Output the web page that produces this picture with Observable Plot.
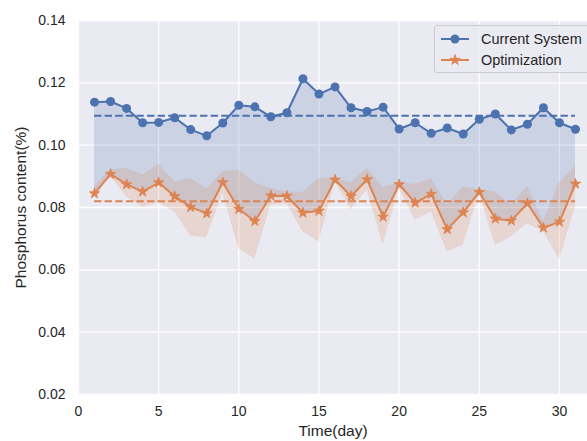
<!DOCTYPE html>
<html>
<head>
<meta charset="utf-8">
<script src="https://cdn.jsdelivr.net/npm/d3@7"></script>
<script src="https://cdn.jsdelivr.net/npm/@observablehq/plot@0.6"></script>
<style>
  html, body { margin: 0; padding: 0; background: #ffffff; overflow: hidden; }
  #wrap { position: relative; width: 587px; height: 441px; font-family: "Liberation Sans", Arial, sans-serif; }
  #chart g[aria-label="x-axis label"] text,
  #chart g[aria-label="y-axis label"] text { font-size: 15.5px; }
  #legend {
    position: absolute; left: 434px; top: 25px; width: 170px; height: 48px;
    background: rgba(234, 234, 242, 0.8); border: 1px solid #cccccc; border-radius: 3px;
    box-sizing: border-box; font-size: 14.5px; color: #262626;
  }
  .row { position: absolute; left: 0; height: 20px; display: flex; align-items: center; white-space: nowrap; }
  .row svg { margin-left: 5px; margin-right: 11px; }
</style>
</head>
<body>
<div id="wrap">
  <div id="chart"></div>
  <div id="legend">
    <div class="row" style="top: 3px;">
      <svg width="30" height="14"><line x1="1" y1="7" x2="29" y2="7" stroke="#4C72B0" stroke-width="2"/><circle cx="15" cy="7" r="4.5" fill="#4C72B0"/></svg>
      <span>Current System</span>
    </div>
    <div class="row" style="top: 24px;">
      <svg width="30" height="14"><line x1="1" y1="7" x2="29" y2="7" stroke="#DD8452" stroke-width="2"/><path id="legstar" fill="#DD8452" stroke="#DD8452" stroke-width="0.8"/></svg>
      <span>Optimization</span>
    </div>
  </div>
</div>
<script>
// Daily phosphorus content (%) over one month
const days = [1, 2, 3, 4, 5, 6, 7, 8, 9, 10, 11, 12, 13, 14, 15, 16, 17, 18, 19, 20, 21, 22, 23, 24, 25, 26, 27, 28, 29, 30, 31];

const currentSystem = [0.1138, 0.1140, 0.1118, 0.1072, 0.1073, 0.1088, 0.1050, 0.1030, 0.1071, 0.1128,
  0.1123, 0.1091, 0.1104, 0.1213, 0.1164, 0.1187, 0.1120, 0.1108, 0.1122, 0.1052,
  0.1072, 0.1038, 0.1055, 0.1036, 0.1083, 0.1100, 0.1049, 0.1067, 0.1120, 0.1072, 0.1051];

const optimization = [0.0845, 0.0907, 0.0874, 0.0851, 0.0880, 0.0836, 0.0801, 0.0781, 0.0880, 0.0795,
  0.0756, 0.0838, 0.0837, 0.0783, 0.0789, 0.0889, 0.0836, 0.0890, 0.0770, 0.0874,
  0.0815, 0.0843, 0.0730, 0.0784, 0.0849, 0.0764, 0.0758, 0.0813, 0.0735, 0.0754, 0.0876];

// Spread of the optimized result (upper / lower bound)
const optUpper = [0.0868, 0.0920, 0.0925, 0.0904, 0.0939, 0.0882, 0.0893, 0.0859, 0.0914, 0.0920,
  0.0879, 0.0861, 0.0850, 0.0848, 0.0893, 0.0893, 0.0879, 0.0925, 0.0864, 0.0879,
  0.0874, 0.0893, 0.0807, 0.0866, 0.0858, 0.0850, 0.0807, 0.0868, 0.0754, 0.0879, 0.0933];

const optLower = [0.0834, 0.0900, 0.0834, 0.0800, 0.0815, 0.0786, 0.0708, 0.0703, 0.0845, 0.0668,
  0.0634, 0.0807, 0.0813, 0.0721, 0.0689, 0.0882, 0.0793, 0.0855, 0.0679, 0.0861,
  0.0759, 0.0786, 0.0657, 0.0679, 0.0845, 0.0679, 0.0705, 0.0748, 0.0721, 0.0633, 0.0802];

const xTicks = [0, 5, 10, 15, 20, 25, 30];
const yTicks = [0.02, 0.04, 0.06, 0.08, 0.10, 0.12, 0.14];

const blue = "#4C72B0";
const orange = "#DD8452";

const rows = days.map((d, i) => ({
  day: d,
  cur: currentSystem[i],
  opt: optimization[i],
  hi: optUpper[i],
  lo: optLower[i]
}));

const meanCur = d3.mean(currentSystem);
const meanOpt = d3.mean(optimization);

const chart = Plot.plot({
  width: 587,
  height: 441,
  marginLeft: 78,
  marginRight: 0,
  marginTop: 20,
  marginBottom: 47,
  style: { background: "#ffffff", fontFamily: "'Liberation Sans', Arial, sans-serif", color: "#262626" },
  x: { domain: [0, 31.75] },
  y: { domain: [0.02, 0.14] },
  marks: [
    Plot.frame({ fill: "#EAEAF2", stroke: null }),
    Plot.gridX(xTicks, { stroke: "#ffffff", strokeOpacity: 1, strokeWidth: 1.3 }),
    Plot.gridY(yTicks, { stroke: "#ffffff", strokeOpacity: 1, strokeWidth: 1.3 }),
    Plot.axisX({ ticks: xTicks, tickSize: 0, tickPadding: 12, fontSize: 14, label: "Time(day)", labelAnchor: "center", labelArrow: "none", labelOffset: 41 }),
    Plot.axisY({ ticks: yTicks, tickSize: 0, tickPadding: 13, tickFormat: ".2f", fontSize: 14, label: "Phosphorus content(%)", labelAnchor: "center", labelArrow: "none", labelOffset: 64 }),
    // gap between the two strategies
    Plot.areaY(rows, { x: "day", y1: "opt", y2: "cur", fill: blue, fillOpacity: 0.2, curve: "linear" }),
    // spread of the optimized result
    Plot.areaY(rows, { x: "day", y1: "lo", y2: "hi", fill: orange, fillOpacity: 0.2, curve: "linear" }),
    // monthly averages
    Plot.ruleY([meanCur], { x1: days[0], x2: days[days.length - 1], stroke: blue, strokeWidth: 2, strokeDasharray: "7.4,3.2" }),
    Plot.ruleY([meanOpt], { x1: days[0], x2: days[days.length - 1], stroke: orange, strokeWidth: 2, strokeDasharray: "7.4,3.2" }),
    Plot.line(rows, { x: "day", y: "cur", stroke: blue, strokeWidth: 2 }),
    Plot.dot(rows, { x: "day", y: "cur", r: 4.5, fill: blue, stroke: "none" }),
    Plot.line(rows, { x: "day", y: "opt", stroke: orange, strokeWidth: 2 }),
    Plot.dot(rows, { x: "day", y: "opt", symbol: "star", r: 3.3, fill: orange, stroke: orange, strokeWidth: 0.8 })
  ]
});

document.getElementById("chart").appendChild(chart);

// legend star glyph, same shape as the plotted markers
document.getElementById("legstar").setAttribute("d", d3.symbol(d3.symbolStar, Math.PI * 3.3 * 3.3)());
document.getElementById("legstar").setAttribute("transform", "translate(15,7)");
</script>
</body>
</html>
